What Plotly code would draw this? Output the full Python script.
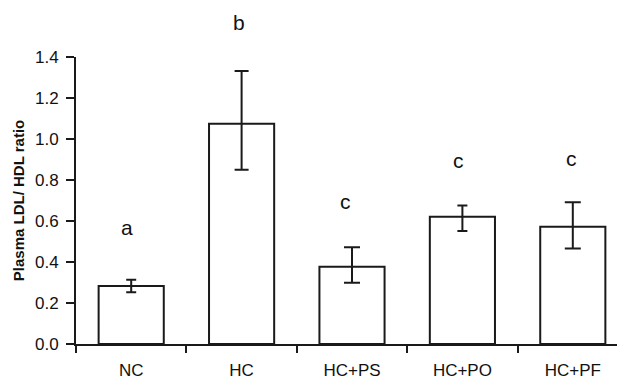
import plotly.graph_objects as go

categories = ["NC", "HC", "HC+PS", "HC+PO", "HC+PF"]
ratio_mean = [0.283, 1.075, 0.377, 0.621, 0.572]
err_plus = [0.030, 0.257, 0.095, 0.055, 0.120]
err_minus = [0.030, 0.225, 0.078, 0.070, 0.106]
sig_letters = ["a", "b", "c", "c", "c"]
letter_heights = [0.566, 1.566, 0.693, 0.893, 0.907]
y_ticks = [0.0, 0.2, 0.4, 0.6, 0.8, 1.0, 1.2, 1.4]
y_max = 1.4

cap_widths = [5, 7, 8, 5, 8]
letter_shift = [-4, -3, -7, -4, -1]

fig = go.Figure()
for i, cat in enumerate(categories):
    fig.add_trace(go.Bar(
        x=[cat], y=[ratio_mean[i]],
        width=0.59,
        marker=dict(color="white", line=dict(color="#1a1a1a", width=2)),
        error_y=dict(type="data", symmetric=False,
                     array=[err_plus[i]], arrayminus=[err_minus[i]],
                     color="#1a1a1a", thickness=2, width=cap_widths[i]),
        showlegend=False,
        hoverinfo="skip",
    ))

for i, cat in enumerate(categories):
    fig.add_annotation(
        x=cat, xref="x",
        y=letter_heights[i] / y_max, yref="y domain",
        xanchor="center", yanchor="middle",
        text=sig_letters[i], showarrow=False, xshift=letter_shift[i],
        font=dict(family="Liberation Sans", size=21, color="#111"),
    )

fig.update_layout(
    width=625, height=380,
    margin=dict(l=68, r=5, t=49, b=44),
    paper_bgcolor="white", plot_bgcolor="white",
    barmode="overlay",
    font=dict(family="Liberation Sans", color="#111"),
)
fig.update_xaxes(
    type="category", range=[-0.5, 4.5],
    showline=True, linecolor="#1a1a1a", linewidth=2,
    ticks="outside", ticklen=7, tickwidth=2, tickcolor="#1a1a1a",
    tickson="boundaries", showgrid=False,
    ticklabelstandoff=10,
    tickfont=dict(family="Liberation Sans", size=17, color="#111"),
)
fig.update_yaxes(
    range=[0, y_max], tickvals=y_ticks, tickformat=".1f",
    showline=True, linecolor="#1a1a1a", linewidth=2,
    ticks="outside", ticklen=8, tickwidth=2, tickcolor="#1a1a1a",
    ticklabelstandoff=4,
    showgrid=False, zeroline=False,
    tickfont=dict(family="Liberation Sans", size=17, color="#111"),
    title=dict(text="<b>Plasma LDL/ HDL ratio</b>", standoff=7,
               font=dict(family="Liberation Sans", size=15, color="#111")),
)

fig.write_html("out.html")
